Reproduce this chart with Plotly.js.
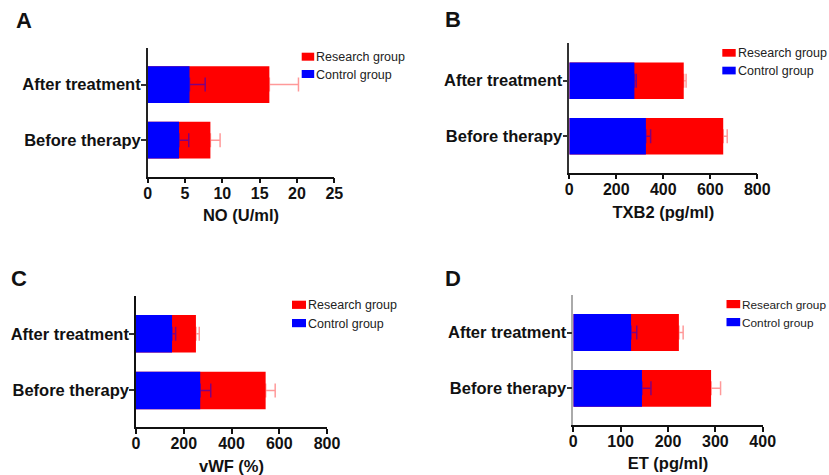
<!DOCTYPE html>
<html><head><meta charset="utf-8">
<script src="https://cdn.plot.ly/plotly-3.0.1.min.js"></script>
<style>html,body{margin:0;padding:0;background:#fff}</style>
</head><body>
<div id="chart" style="width:829px;height:475px"></div>
<script>
// ---- data ----
const categories = ['Before therapy', 'After treatment'];
const seriesNames = ['Research group', 'Control group'];
const panelLetters = ['A', 'B', 'C', 'D'];
const axisTitles = ['NO (U/ml)', 'TXB2 (pg/ml)', 'vWF (%)', 'ET (pg/ml)'];
const xTickVals = [[0,5,10,15,20,25],[0,200,400,600,800],[0,200,400,600,800],[0,100,200,300,400]];

const noResearch = [8.4, 16.3];
const noResearchErr = [1.3, 3.9];
const noControl = [4.2, 5.6];
const noControlErr = [1.3, 2.1];

const txb2Research = [655, 487];
const txb2ResearchErr = [17, 10];
const txb2Control = [326, 277];
const txb2ControlErr = [20, 8];

const vwfResearch = [543, 251];
const vwfResearchErr = [40, 14];
const vwfControl = [269, 151];
const vwfControlErr = [44, 15];

const etResearch = [291, 223];
const etResearchErr = [20, 9];
const etControl = [145, 122];
const etControlErr = [19, 12];

// ---- layout geometry (pixels) ----
const W = 829, H = 475;
const px = x => x / W;
const py = y => 1 - y / H;
const panels = [
  {research: noResearch, rErr: noResearchErr, control: noControl, cErr: noControlErr,
   x0: 147.7, x1: 334.3, yt: 48.3, yb: 176.7, yr: [-0.655, 1.65], ylc: '#222', ts: 9,
   letter: [23.5, 20.5], leg: {x: 301.7, w: 12.5, r: 52.7, c: 70, h: 8, fs: 12.5}},
  {research: txb2Research, rErr: txb2ResearchErr, control: txb2Control, cErr: txb2ControlErr,
   x0: 569.3, x1: 757.3, yt: 43.3, yb: 172.7, yr: [-0.658, 1.674], ylc: '#333', ts: 10,
   letter: [452.5, 19.7], leg: {x: 722.3, w: 13.4, r: 49, c: 66.7, h: 7.7, fs: 12.5}},
  {research: vwfResearch, rErr: vwfResearchErr, control: vwfControl, cErr: vwfControlErr,
   x0: 136, x1: 327, yt: 295.7, yb: 427.3, yr: [-0.65, 1.672], ylc: '#111', ts: 12,
   letter: [19.2, 278.3], leg: {x: 292, w: 14, r: 300.7, c: 319, h: 8.2, fs: 12.5}},
  {research: etResearch, rErr: etResearchErr, control: etControl, cErr: etControlErr,
   x0: 573.3, x1: 762.7, yt: 295, yb: 425.3, yr: [-0.663, 1.672], ylc: '#aaaaaa', ts: 8,
   letter: [452.8, 278.3], leg: {x: 726.5, w: 13.7, r: 300, c: 318, h: 8.2, fs: 11.8}}
];

const FONT = 'Liberation Sans, Arial, sans-serif';
const RED = '#ff0000', BLUE = '#0000ff';
const data = [];
const layout = {
  width: W, height: H,
  margin: {l: 0, r: 0, t: 0, b: 0},
  paper_bgcolor: '#fff', plot_bgcolor: 'rgba(0,0,0,0)',
  barmode: 'overlay', bargap: 0.34,
  showlegend: false,
  font: {family: FONT, color: '#111'},
  shapes: [], annotations: []
};

panels.forEach((p, i) => {
  const n = i === 0 ? '' : String(i + 1);
  const xa = 'x' + n, ya = 'y' + n;
  data.push({
    type: 'bar', orientation: 'h', name: seriesNames[0],
    y: categories, x: p.research, xaxis: xa, yaxis: ya,
    marker: {color: RED, line: {width: 0}},
    error_x: {type: 'data', symmetric: false, array: p.rErr, arrayminus: [0, 0],
              color: 'rgba(255,0,0,0.4)', thickness: 1.5, width: 7},
    hoverinfo: 'x+name'
  });
  data.push({
    type: 'bar', orientation: 'h', name: seriesNames[1],
    y: categories, x: p.control, xaxis: xa, yaxis: ya,
    marker: {color: BLUE, line: {width: 0}},
    error_x: {type: 'data', symmetric: false, array: p.cErr, arrayminus: [0, 0],
              color: 'rgba(0,0,255,0.5)', thickness: 1.5, width: 7},
    hoverinfo: 'x+name'
  });
  const tv = xTickVals[i];
  layout['xaxis' + n] = {
    domain: [px(p.x0), px(p.x1)], anchor: ya,
    range: [0, tv[tv.length - 1]], tickvals: tv,
    showgrid: false, zeroline: false, showline: true, linecolor: '#111', linewidth: 1.5,
    ticks: 'outside', ticklen: 5, tickwidth: 1.5, tickcolor: '#111',
    ticklabelstandoff: -4,
    tickfont: {family: FONT, size: 16, weight: 'bold', color: '#111'},
    title: {text: axisTitles[i], standoff: p.ts, font: {family: FONT, size: 16.5, weight: 'bold', color: '#111'}},
    fixedrange: true
  };
  layout['yaxis' + n] = {
    domain: [py(p.yb), py(p.yt)], anchor: xa,
    type: 'category', categoryorder: 'array', categoryarray: categories,
    range: p.yr,
    showgrid: false, zeroline: false, showline: true, linecolor: p.ylc, linewidth: 1.5,
    ticks: 'outside', ticklen: 5, tickwidth: 1.5, tickcolor: '#333',
    ticklabelstandoff: -3,
    tickfont: {family: FONT, size: 16.5, weight: 'bold', color: '#111'},
    fixedrange: true
  };
  // panel letter
  layout.annotations.push({
    xref: 'paper', yref: 'paper', x: px(p.letter[0]), y: py(p.letter[1]),
    xanchor: 'center', yanchor: 'middle', showarrow: false,
    text: panelLetters[i], font: {family: FONT, size: 22, weight: 'bold', color: '#111'}
  });
  // legend (manual)
  const L = p.leg;
  [[L.r, RED, seriesNames[0]], [L.c, BLUE, seriesNames[1]]].forEach(([yy, col, name]) => {
    layout.shapes.push({
      type: 'rect', xref: 'paper', yref: 'paper',
      x0: px(L.x), x1: px(L.x + L.w), y0: py(yy + L.h), y1: py(yy),
      fillcolor: col, line: {width: 0}
    });
    layout.annotations.push({
      xref: 'paper', yref: 'paper', x: px(L.x + L.w), y: py(yy + L.h / 2 + 0.5),
      xanchor: 'left', yanchor: 'middle', showarrow: false,
      text: name, font: {family: FONT, size: L.fs, color: '#222'}
    });
  });
});

Plotly.newPlot('chart', data, layout, {displayModeBar: false, staticPlot: false});
</script>
</body></html>
